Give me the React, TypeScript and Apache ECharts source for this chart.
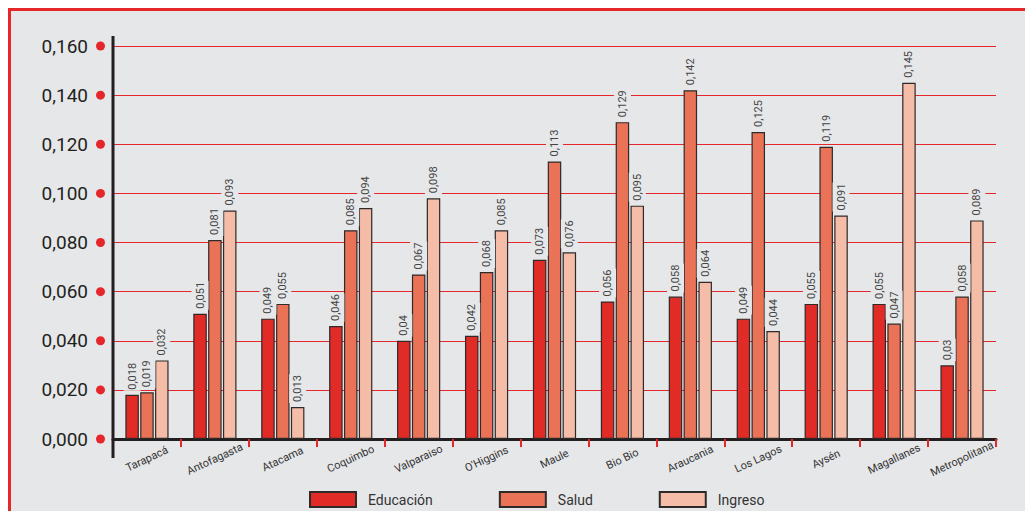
import React, { useEffect, useRef } from 'react';
import * as echarts from 'echarts';

const categories = ['Tarapacá', 'Antofagasta', 'Atacama', 'Coquimbo', 'Valparaiso', "O'Higgins", 'Maule', 'Bio Bio', 'Araucania', 'Los Lagos', 'Aysén', 'Magallanes', 'Metropolitana'];
const educacion = [0.018, 0.051, 0.049, 0.046, 0.04, 0.042, 0.073, 0.056, 0.058, 0.049, 0.055, 0.055, 0.03];
const salud = [0.019, 0.081, 0.055, 0.085, 0.067, 0.068, 0.113, 0.129, 0.142, 0.125, 0.119, 0.047, 0.058];
const ingreso = [0.032, 0.093, 0.013, 0.094, 0.098, 0.085, 0.076, 0.095, 0.064, 0.044, 0.091, 0.145, 0.089];
const seriesNames = ['Educación', 'Salud', 'Ingreso'];
const seriesColors = ['#e02b26', '#ea7357', '#f5bca8'];
const yMin = 0;
const yMax = 0.16;
const yInterval = 0.02;

const PANEL = '#e6e7e9';
const RED = '#e5262a';
const DARK = '#231f20';
const GL = 102;
const GT = 35;
const GW = 883;
const GH = 393;

export default function App() {
  const ref = useRef<HTMLDivElement>(null);
  useEffect(() => {
    document.documentElement.style.overflow = 'hidden';
    document.body.style.overflow = 'hidden';
    const chart = echarts.init(ref.current!, null, { renderer: 'svg' });
    const values = [educacion, salud, ingreso];
    const option: any = {
      animation: false,
      backgroundColor: PANEL,
      textStyle: { fontFamily: 'Roboto' },
      grid: { left: GL, top: GT, width: GW, height: GH },
      legend: {
        left: 298,
        top: 480,
        padding: 0,
        itemWidth: 46,
        itemHeight: 15,
        itemGap: 66,
        icon: 'rect',
        textStyle: { fontSize: 14, color: '#333', fontFamily: 'Roboto', padding: [0, 0, 0, 7] },
        data: seriesNames,
      },
      xAxis: {
        type: 'category',
        data: categories,
        axisLine: { show: true, lineStyle: { color: DARK, width: 3 } },
        axisTick: { show: true, interval: 0, length: 8, lineStyle: { color: RED, width: 2 } },
        axisLabel: {
          interval: 0,
          rotate: 25,
          align: 'center',
          verticalAlign: 'middle',
          margin: 20,
          fontSize: 11,
          color: '#333',
          fontFamily: 'Roboto',
        },
        splitLine: { show: false },
      },
      yAxis: {
        type: 'value',
        min: yMin,
        max: yMax,
        interval: yInterval,
        axisLine: { show: false },
        axisTick: { show: false },
        splitLine: { show: true, lineStyle: { color: RED, width: 1.2 } },
        axisLabel: {
          margin: 8,
          formatter: (v: number) => `{v|${v.toFixed(3).replace('.', ',')}}{d| }`,
          rich: {
            v: { fontSize: 19, color: DARK, fontFamily: 'Roboto', padding: [0, 8, 0, 0], verticalAlign: 'middle' },
            d: { width: 9, height: 9, borderRadius: 4.5, backgroundColor: RED, verticalAlign: 'middle', fontSize: 1 },
          },
        },
      },
      series: seriesNames.map((name, i) => ({
        name,
        type: 'bar',
        data: values[i],
        barWidth: 13.5,
        barGap: '10%',
        itemStyle: { color: seriesColors[i], borderColor: '#2e2a2a', borderWidth: 1.2 },
        label: {
          show: true,
          position: 'top',
          rotate: 90,
          align: 'left',
          verticalAlign: 'middle',
          distance: 4,
          fontSize: 11,
          color: '#444',
          fontFamily: 'Roboto',
          backgroundColor: PANEL,
          padding: [3, 1],
          formatter: (p: any) => String(p.value).replace('.', ','),
        },
      })),
      graphic: [
        {
          type: 'line',
          z: 100,
          shape: { x1: GL, y1: GT - 10, x2: GL, y2: GT + GH + 19 },
          style: { stroke: DARK, lineWidth: 3 },
        },
      ],
    };
    chart.setOption(option);
    return () => chart.dispose();
  }, []);
  return (
    <div
      style={{
        position: 'fixed',
        left: 8,
        top: 8,
        width: 1060,
        height: 540,
        border: `3px solid ${RED}`,
        boxSizing: 'border-box',
        background: PANEL,
      }}
    >
      <div ref={ref} style={{ width: 1054, height: 534 }} />
    </div>
  );
}
